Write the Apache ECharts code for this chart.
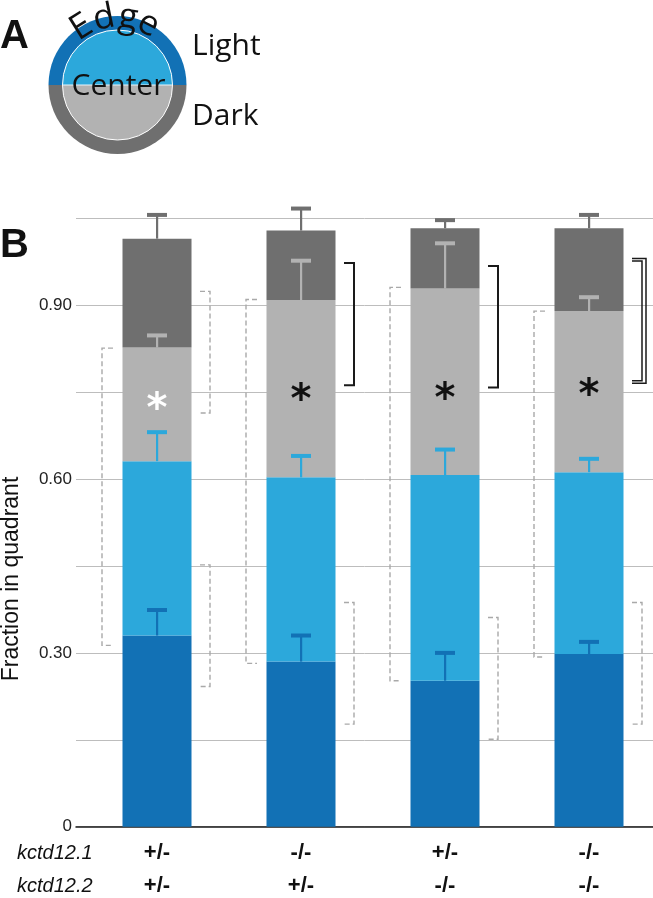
<!DOCTYPE html>
<html><head><meta charset="utf-8">
<script src="https://cdn.jsdelivr.net/npm/echarts@6/dist/echarts.min.js"></script>
<style>html,body{margin:0;padding:0;background:#fff}#c{width:653px;height:898px}</style>
</head><body><div id="c"></div>
<script>
// ---------- data ----------
const categories = ['+/- ; +/-', '-/- ; +/-', '+/- ; -/-', '-/- ; -/-'];
const kctd121 = ['+/-', '-/-', '+/-', '-/-'];
const kctd122 = ['+/-', '+/-', '-/-', '-/-'];
const yTickLabels = ['0', '', '0.30', '', '0.60', '', '0.90', ''];
const segmentNames = ['Edge, light', 'Center, light', 'Center, dark', 'Edge, dark'];
const edgeLight   = [0.330, 0.285, 0.252, 0.298];
const centerLight = [0.301, 0.318, 0.355, 0.314];
const centerDark  = [0.196, 0.306, 0.322, 0.278];
const edgeDark    = [0.188, 0.120, 0.104, 0.143];
const edgeLightErr   = [0.044, 0.045, 0.048, 0.021];
const centerLightErr = [0.050, 0.037, 0.044, 0.023];
const centerDarkErr  = [0.021, 0.068, 0.078, 0.024];
const edgeDarkErr    = [0.041, 0.038, 0.014, 0.023];
const leftBracket       = [[0.313, 0.826], [0.282, 0.910], [0.252, 0.931], [0.293, 0.890]];
const rightUpperBracket = [[0.714, 0.924], [0.762, 0.973], [0.758, 0.968], [0.768, 0.978]];
const rightUpperKind    = ['dashed', 'solid', 'solid', 'double'];
const rightLowerBracket = [[0.242, 0.452], [0.177, 0.387], [0.151, 0.361], [0.177, 0.387]];
const starLevel = [0.738, 0.752, 0.754, 0.762];

// ---------- styles ----------
const segColors = ['#1271b5', '#2ca8db', '#b2b2b2', '#6f6f6f'];
const starFill = ['#ffffff', '#111111', '#111111', '#111111'];
const FONT = 'Liberation Sans, Arial, sans-serif';
const FONT_A = 'Open Sans, sans-serif';

const segs = [edgeLight, centerLight, centerDark, edgeDark];
const errs = [edgeLightErr, centerLightErr, centerDarkErr, edgeDarkErr];

const errData = [];
for (let s = 0; s < 4; s++) {
  for (let i = 0; i < categories.length; i++) {
    let top = 0;
    for (let k = 0; k <= s; k++) top += segs[k][i];
    errData.push([i, top, top + errs[s][i], s]);
  }
}
const kindMap = {dashed: 1, solid: 2, double: 3};
const brData = [];
for (let i = 0; i < categories.length; i++) {
  brData.push([i, leftBracket[i][0], leftBracket[i][1], 0]);
  brData.push([i, rightUpperBracket[i][0], rightUpperBracket[i][1], kindMap[rightUpperKind[i]]]);
  brData.push([i, rightLowerBracket[i][0], rightLowerBracket[i][1], 1]);
}
const starData = starLevel.map((v, i) => [i, v]);

const chart = echarts.init(document.getElementById('c'), null, {renderer: 'canvas'});

const GT = 218.4, GB = 71.3;
const cx = 117.5, cy = 85, R = 68, r = 55;
const edgeLetters = [['E', 122], ['d', 101.5], ['g', 81], ['e', 63]];

const graphics = [
  {type: 'sector', shape: {cx, cy, r: 69, startAngle: Math.PI, endAngle: 2 * Math.PI}, style: {fill: '#1271b5'}},
  {type: 'sector', shape: {cx, cy, r: 69, startAngle: 0, endAngle: Math.PI}, style: {fill: '#6f6f6f'}},
  {type: 'sector', shape: {cx, cy, r: r, startAngle: Math.PI, endAngle: 2 * Math.PI}, style: {fill: '#2ca8db'}},
  {type: 'sector', shape: {cx, cy, r: r, startAngle: 0, endAngle: Math.PI}, style: {fill: '#b2b2b2'}},
  {type: 'circle', shape: {cx, cy, r: r}, style: {fill: null, stroke: '#ffffff', lineWidth: 1}},
  {type: 'line', shape: {x1: cx - r, y1: cy, x2: cx + r, y2: cy}, style: {stroke: '#e8f4fa', lineWidth: 1}},
  {type: 'text', x: cx + 1, y: 86.5, style: {text: 'Center', font: '30px ' + FONT_A, fill: '#111', align: 'center', verticalAlign: 'middle'}},
  {type: 'text', x: 192, y: 46.5, style: {text: 'Light', font: '30px ' + FONT_A, fill: '#111', align: 'left', verticalAlign: 'middle'}},
  {type: 'text', x: 192, y: 116, style: {text: 'Dark', font: '30px ' + FONT_A, fill: '#111', align: 'left', verticalAlign: 'middle'}},
  {type: 'text', x: 0, y: 37, style: {text: 'A', font: 'bold 40px ' + FONT, fill: '#111', align: 'left', verticalAlign: 'middle'}},
  {type: 'text', x: 0, y: 246, style: {text: 'B', font: 'bold 40px ' + FONT, fill: '#111', align: 'left', verticalAlign: 'middle'}},
  {type: 'text', x: 12, y: 579, rotation: Math.PI / 2, style: {text: 'Fraction in quadrant', font: '23px ' + FONT, fill: '#111', align: 'center', verticalAlign: 'middle'}},
  {type: 'text', x: 17, y: 853, style: {text: 'kctd12.1', font: 'italic 20px ' + FONT, fill: '#111', align: 'left', verticalAlign: 'middle'}},
  {type: 'text', x: 17, y: 886, style: {text: 'kctd12.2', font: 'italic 20px ' + FONT, fill: '#111', align: 'left', verticalAlign: 'middle'}}
];
edgeLetters.forEach(([ch, deg]) => {
  const a = deg * Math.PI / 180;
  graphics.push({
    type: 'text', x: cx + R * Math.cos(a), y: cy - R * Math.sin(a), rotation: a - Math.PI / 2,
    style: {text: ch, font: '35px ' + FONT_A, fill: '#111', align: 'center', verticalAlign: 'middle'}, z: 10
  });
});

const option = {
  animation: false,
  backgroundColor: '#fff',
  grid: [
    {left: 76, right: 0, top: GT, bottom: GB, outerBoundsMode: 'none', containLabel: false},
    {left: 85, width: 576, top: GT, bottom: GB, outerBoundsMode: 'none', containLabel: false}
  ],
  xAxis: [
    {gridIndex: 0, type: 'category', data: categories, axisLine: {show: true, lineStyle: {color: '#1a1a1a', width: 1.5}}, axisTick: {show: false}, axisLabel: {show: false}, splitLine: {show: false}},
    {gridIndex: 1, type: 'category', data: categories, axisLine: {show: false}, axisTick: {show: false},
     axisLabel: {margin: 26, verticalAlign: 'middle', fontFamily: FONT, fontSize: 22, fontWeight: 'bold', color: '#111', formatter: (v, i) => kctd121[i]}},
    {gridIndex: 1, type: 'category', data: categories, position: 'bottom', offset: 33, axisLine: {show: false}, axisTick: {show: false},
     axisLabel: {margin: 26, verticalAlign: 'middle', fontFamily: FONT, fontSize: 22, fontWeight: 'bold', color: '#111', formatter: (v, i) => kctd122[i]}}
  ],
  yAxis: [
    {gridIndex: 0, type: 'value', min: 0, max: 1.05, interval: 0.15, axisLine: {show: false}, axisTick: {show: false},
     splitLine: {show: true, lineStyle: {color: '#bdbdbd', width: 1}},
     axisLabel: {margin: 4, fontFamily: FONT, fontSize: 17, color: '#222', formatter: (v, i) => yTickLabels[Math.round(v / 0.15)] || ''}},
    {gridIndex: 1, type: 'value', min: 0, max: 1.05, show: false}
  ],
  graphic: graphics,
  series: [
    ...segs.map((arr, s) => ({
      name: segmentNames[s], type: 'bar', stack: 'q', xAxisIndex: 1, yAxisIndex: 1,
      barWidth: 69, data: arr, itemStyle: {color: segColors[s]}, z: 2
    })),
    {
      type: 'custom', xAxisIndex: 1, yAxisIndex: 1, data: errData, z: 5,
      encode: {x: 0, y: [1, 2]},
      renderItem: (params, api) => {
        const i = api.value(0), top = api.value(1), cap = api.value(2), s = api.value(3);
        const p0 = api.coord([i, top]), p1 = api.coord([i, cap]);
        const col = segColors[s];
        return {type: 'group', children: [
          {type: 'rect', shape: {x: p0[0] - 1, y: p1[1], width: 2.2, height: p0[1] - p1[1]}, style: {fill: col}},
          {type: 'rect', shape: {x: p0[0] - 10, y: p1[1] - 2, width: 20, height: 4}, style: {fill: col}}
        ]};
      }
    },
    {
      type: 'custom', xAxisIndex: 1, yAxisIndex: 1, data: brData, z: 6,
      encode: {x: 0, y: [1, 2]},
      renderItem: (params, api) => {
        const i = api.value(0), lo = api.value(1), hi = api.value(2), k = api.value(3);
        const pl = api.coord([i, lo]), ph = api.coord([i, hi]);
        const x0 = pl[0], yl = pl[1], yh = ph[1];
        const dashed = {stroke: '#a9a9a9', lineWidth: 1.4, lineDash: [5, 3], fill: null};
        const solid = {stroke: '#1a1a1a', lineWidth: 2, fill: null};
        if (k === 0) {
          const xv = x0 - 55;
          return {type: 'polyline', shape: {points: [[xv + 11, yh], [xv, yh], [xv, yl], [xv + 11, yl]]}, style: dashed};
        }
        const xv = x0 + 53;
        if (k === 1) return {type: 'polyline', shape: {points: [[xv - 10, yh], [xv, yh], [xv, yl], [xv - 10, yl]]}, style: dashed};
        if (k === 2) return {type: 'polyline', shape: {points: [[xv - 10, yh], [xv, yh], [xv, yl], [xv - 10, yl]]}, style: solid};
        const thin = {stroke: '#1a1a1a', lineWidth: 1.5, fill: null};
        return {type: 'group', children: [
          {type: 'polyline', shape: {points: [[xv - 10, yh - 1.5], [xv + 4, yh - 1.5], [xv + 4, yl + 1.5], [xv - 10, yl + 1.5]]}, style: thin},
          {type: 'polyline', shape: {points: [[xv - 10, yh + 1], [xv, yh + 1], [xv, yl - 1], [xv - 10, yl - 1]]}, style: thin}
        ]};
      }
    },
    {
      type: 'custom', xAxisIndex: 1, yAxisIndex: 1, data: starData, z: 7,
      renderItem: (params, api) => {
        const i = api.value(0);
        const p = api.coord([i, api.value(1)]);
        return {type: 'text', x: p[0], y: p[1] + 11,
          style: {text: '*', font: 'bold 40px DejaVu Sans, sans-serif', fill: starFill[i], align: 'center', verticalAlign: 'middle'}};
      }
    }
  ]
};
chart.setOption(option);
</script>
</body></html>
